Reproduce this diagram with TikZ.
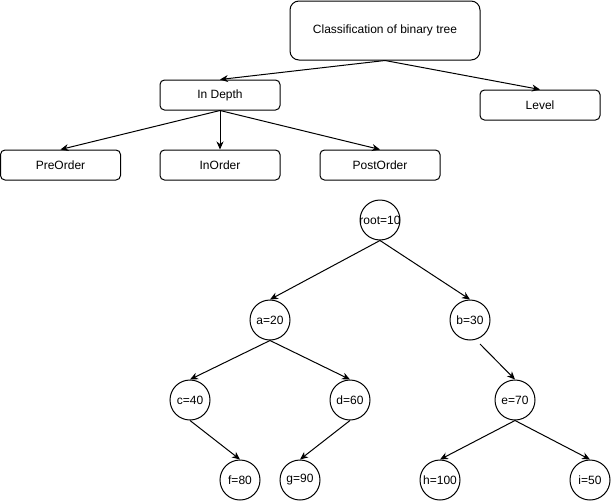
\documentclass[tikz,border=0pt]{standalone}
\usepackage{fontspec}
\setmainfont{Liberation Sans}
\usetikzlibrary{arrows.meta}
\begin{document}
\begin{tikzpicture}[x=1pt,y=-1pt,
  font=\fontsize{12}{14}\selectfont,
  box/.style={draw,line width=1pt,rounded corners=4.5pt,minimum width=120pt,minimum height=30pt,inner sep=0pt},
  bigbox/.style={draw,line width=1pt,rounded corners=9pt,minimum width=190pt,minimum height=59pt,inner sep=0pt},
  tnode/.style={draw,circle,line width=1pt,minimum size=40pt,inner sep=0pt},
  conn/.style={line width=1pt,-{Stealth[length=8pt,width=7pt,inset=2.5pt]}}]
\useasboundingbox (0,0) rectangle (611,501);
\node[bigbox] (cls) at (385,30.5) {Classification of binary tree};
\node[box] (dep) at (220,95) {In Depth};
\node[box] (lev) at (540,105) {Level};
\node[box] (pre) at (60.5,165) {PreOrder};
\node[box] (ino) at (220,165) {InOrder};
\node[box] (post) at (380,165) {PostOrder};
\draw[conn] (cls.south) -- (dep.north);
\draw[conn] (cls.south) -- (lev.north);
\draw[conn] (dep.south) -- (pre.north);
\draw[conn] (dep.south) -- (ino.north);
\draw[conn] (dep.south) -- (post.north);
\node[tnode] (root) at (380,220) {\makebox[0pt]{root=10}};
\node[tnode] (a) at (270,320) {\makebox[0pt]{a=20}};
\node[tnode] (b) at (470,320) {\makebox[0pt]{b=30}};
\node[tnode] (c) at (190,400) {\makebox[0pt]{c=40}};
\node[tnode] (d) at (350,400) {\makebox[0pt]{d=60}};
\node[tnode] (e) at (515,400) {\makebox[0pt]{e=70}};
\node[tnode] (f) at (240,480) {\makebox[0pt]{f=80}};
\node[tnode] (g) at (300,480) {\makebox[0pt]{g=90}};
\node[tnode] (h) at (440,480) {\makebox[0pt]{h=100}};
\node[tnode] (i) at (590,480) {\makebox[0pt]{i=50}};
\coordinate (bs) at (480,344);
\draw[conn] (root.south) -- (a.north);
\draw[conn] (root.south) -- (b.north);
\draw[conn] (a.south) -- (c.north);
\draw[conn] (a.south) -- (d.north);
\draw[conn] (bs) -- (e.north);
\draw[conn] (c.south) -- (f.north);
\draw[conn] (d.south) -- (g.north);
\draw[conn] (e.south) -- (h.north);
\draw[conn] (e.south) -- (i.north);
\end{tikzpicture}
\end{document}
